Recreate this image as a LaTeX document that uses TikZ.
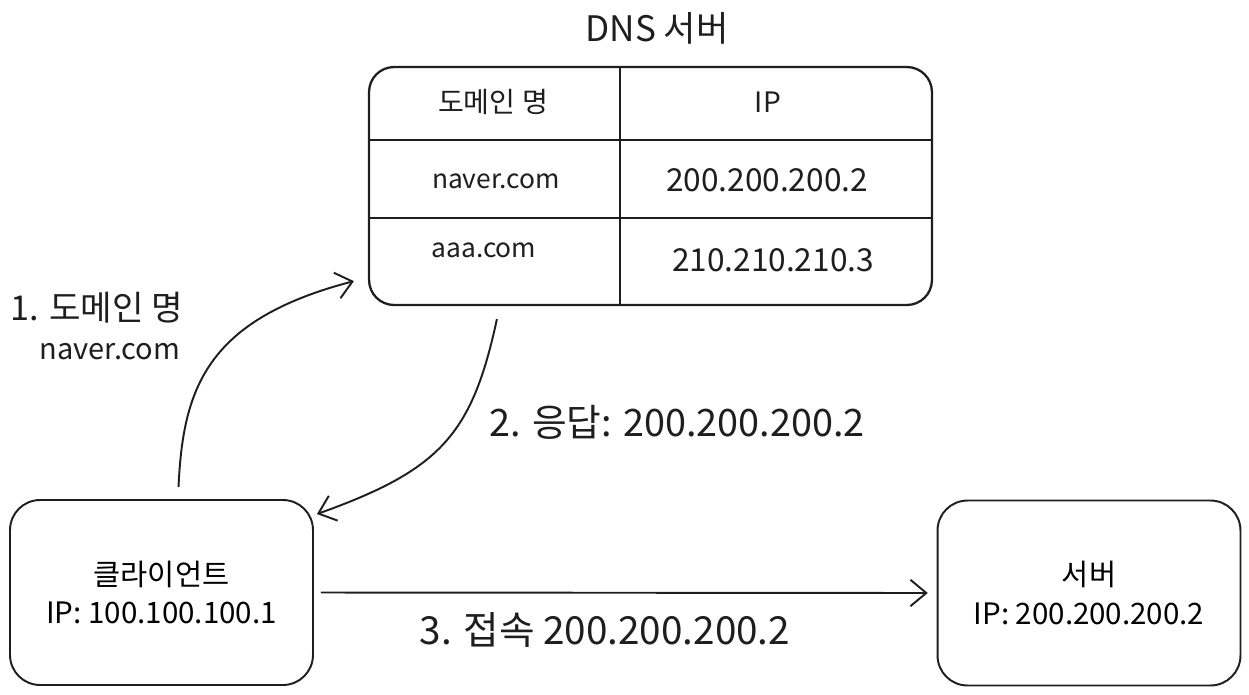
\documentclass[tikz,border=0pt]{standalone}
\usepackage{fontspec}
\setmainfont{Noto Sans CJK KR}
\usetikzlibrary{positioning, arrows.meta}

\definecolor{ink}{HTML}{1E1E1E}

\tikzset{
	box/.style={draw=ink, line width=1.1pt, rounded corners=0.6cm, align=center,
		minimum width=6.06cm, minimum height=3.7cm, inner sep=0pt},
	conn/.style={draw=ink, line width=1.1pt, -{Straight Barb[length=9pt, width=15pt, line width=1.1pt]}},
	cell/.style={text=ink, inner sep=0pt},
}

\begin{document}
\begin{tikzpicture}[x=0.02cm, y=-0.02cm]
	\useasboundingbox (0, 0) rectangle (1249, 694);

	% Instances:
	\node[box, minimum width=11.26cm, minimum height=4.76cm, rounded corners=0.5cm, line width=1.3pt] (dns) at (650.5, 186) {};
	\node[box, font=\fontsize{16.8}{20}\selectfont] (client) at (161.5, 592.5) {클라이언트\\[2pt]IP: 100.100.100.1};
	\node[box, font=\fontsize{16.8}{20}\selectfont] (server) at (1089, 593) {서버\\[2pt]IP: 200.200.200.2};

	% Table:
	\draw[ink, line width=1.3pt] (dns.north -| 620, 0) -- (dns.south -| 620, 0);
	\draw[ink, line width=1.3pt] (dns.west |- 0, 140) -- (dns.east |- 0, 140);
	\draw[ink, line width=1.3pt] (dns.west |- 0, 218) -- (dns.east |- 0, 218);

	\node[cell, font=\fontsize{20}{24}\selectfont] (dnstitle) at (657, 28) {DNS 서버};
	\node[cell, font=\fontsize{16}{20}\selectfont] (hname) at (493, 102) {도메인 명};
	\node[cell, font=\fontsize{16}{20}\selectfont] (hip) at (768, 102) {IP};
	\node[cell, font=\fontsize{15}{18}\selectfont] (name1) at (496, 181) {naver.com};
	\node[cell, font=\fontsize{18}{22}\selectfont] (ip1) at (767, 180) {200.200.200.2};
	\node[cell, font=\fontsize{15}{18}\selectfont] (name2) at (484, 250) {aaa.com};
	\node[cell, font=\fontsize{18}{22}\selectfont] (ip2) at (773, 260) {210.210.210.3};

	% Connectors:
	\draw[conn] ([shift={(17, -12)}]client.north) .. controls (183, 390) and (205, 320) .. ([shift={(-14, -25)}]dns.south west);
	\draw[conn] ([shift={(129, 13)}]dns.south west) .. controls (472, 435) and (440, 470) .. ([shift={(3, 15)}]client.north east);
	\draw[conn, shorten <=4pt, shorten >=5pt] (client.east) -- (server.west);

	% Labels:
	\node[cell, font=\fontsize{19.5}{22}\selectfont, anchor=west] (lbl1) at (10, 308) {1. 도메인 명};
	\node[cell, font=\fontsize{16.5}{18}\selectfont] (lbl1b) at (110, 352) {naver.com};
	\node[cell, font=\fontsize{21.5}{24}\selectfont] (lbl2) at (677, 422) {2. 응답: 200.200.200.2};
	\node[cell, font=\fontsize{22}{24}\selectfont] (lbl3) at (605, 630) {3. 접속 200.200.200.2};

\end{tikzpicture}
\end{document}
